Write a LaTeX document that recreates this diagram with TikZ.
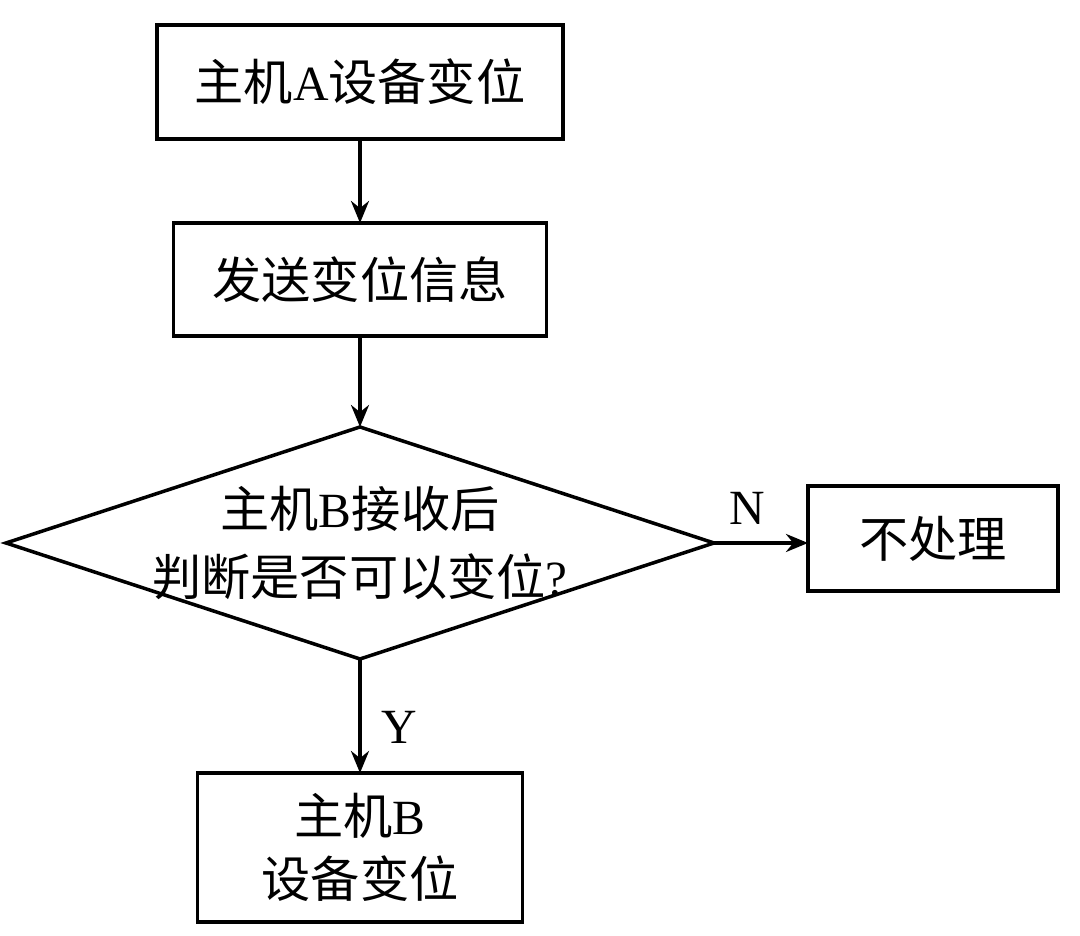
\documentclass[tikz,border=0pt]{standalone}
\usepackage{fontspec}
\setmainfont{Liberation Serif}
\newfontfamily\cjk{Noto Sans CJK SC}
\usetikzlibrary{arrows.meta,shapes.geometric,positioning}
\newcommand{\en}[1]{{\rmfamily #1}}

\begin{document}
\begin{tikzpicture}[-, line width=1pt,
                    font=\cjk\fontsize{14pt}{18pt}\selectfont,
                    box/.style = {draw, rectangle, align=center, inner sep=0pt, outer sep=0pt},
                    judge/.style = {draw, diamond, aspect=3.05, align=center, outer sep=0pt,
                                    inner xsep=-1cm, inner ysep=0pt,
                                    font=\cjk\fontsize{14pt}{19.5pt}\selectfont},
                    flow/.style = {-{Stealth[length=2.2mm,width=1.8mm]}},
                    yesno/.style = {inner sep=0pt, font=\rmfamily\fontsize{14pt}{18pt}\selectfont}]
\useasboundingbox (0,0) rectangle (10.8,9.36);
\node[box, minimum width=4.06cm, minimum height=1.14cm] (hostA) at (3.6,8.54) {主机\en{A}设备变位};
\node[box, below=0.84cm of hostA, minimum width=3.73cm, minimum height=1.13cm] (send) {发送变位信息};
\node[judge, below=0.91cm of send, minimum width=7.08cm, minimum height=2.32cm] (check)
    {主机\en{B}接收后\\判断是否可以变位\en{?}};
\node[box, right=0.94cm of check, yshift=0.045cm, minimum width=2.5cm, minimum height=1.05cm] (skip) {不处理};
\node[box, below=1.14cm of check, minimum width=3.25cm, minimum height=1.49cm] (hostB)
    {主机\en{B}\\设备变位};
    \draw[flow] (hostA) -- (send);
    \draw[flow] (send) -- (check);
    \draw[flow] (check.east) -- node[yesno, pos=0.35, above=0.17cm] {N} (skip.west |- check.east);
    \draw[flow] (check.south) -- node[yesno, pos=0.6, right=0.2cm] {Y} (hostB.north);
\end{tikzpicture}
\end{document}
